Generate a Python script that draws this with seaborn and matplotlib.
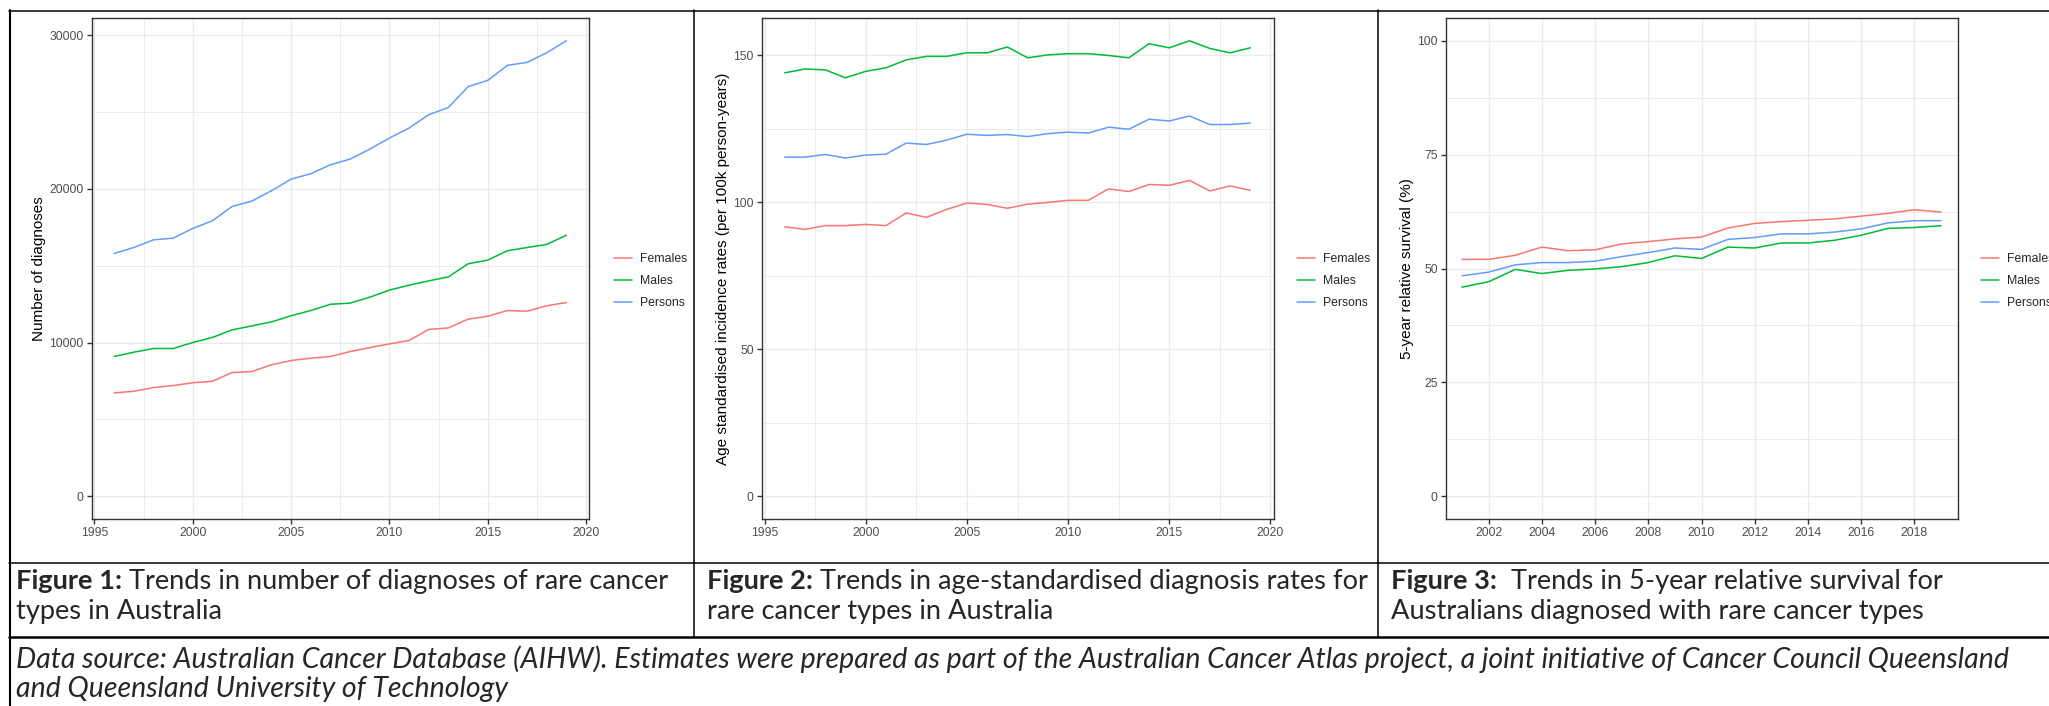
import matplotlib
matplotlib.use("Agg")
import matplotlib.pyplot as plt
from matplotlib.lines import Line2D
from matplotlib.ticker import MultipleLocator
import pandas as pd
import seaborn as sns

# ---- data ----
groups = ["Females", "Males", "Persons"]
colours = ["#F8766D", "#00BA38", "#619CFF"]

years_diag = list(range(1996, 2020))
diag_females = [6720, 6830, 7070, 7200, 7380, 7480, 8050, 8110, 8550, 8830, 8980, 9090,
                9410, 9670, 9910, 10130, 10850, 10950, 11520, 11710, 12080, 12040, 12390, 12600]
diag_males = [9090, 9370, 9610, 9610, 10000, 10330, 10820, 11080, 11340, 11740, 12080, 12490,
              12560, 12950, 13410, 13730, 14010, 14270, 15120, 15360, 15970, 16180, 16380, 16980]
diag_persons = [15790, 16180, 16680, 16790, 17420, 17920, 18850, 19200, 19870, 20630, 20980, 21560,
                21930, 22580, 23300, 23950, 24820, 25290, 26640, 27050, 28030, 28220, 28850, 29630]

years_rate = list(range(1996, 2020))
rate_females = [91.7, 90.8, 92.1, 92.1, 92.5, 92.1, 96.4, 94.9, 97.6, 99.8, 99.3, 98.0,
                99.4, 100.0, 100.7, 100.7, 104.6, 103.7, 106.1, 105.8, 107.5, 103.9, 105.6, 104.1]
rate_males = [144.1, 145.4, 145.1, 142.4, 144.6, 145.8, 148.5, 149.7, 149.7, 150.9, 150.9, 152.9,
              149.2, 150.2, 150.6, 150.6, 150.0, 149.2, 154.0, 152.6, 155.0, 152.4, 150.9, 152.6]
rate_persons = [115.4, 115.4, 116.3, 115.1, 116.1, 116.4, 120.2, 119.7, 121.2, 123.2, 122.8, 123.1,
                122.4, 123.4, 123.9, 123.6, 125.6, 124.9, 128.3, 127.7, 129.4, 126.5, 126.5, 127.0]

years_surv = list(range(2001, 2020))
surv_females = [52.0, 52.0, 52.9, 54.7, 53.9, 54.1, 55.4, 55.9, 56.5, 56.9, 58.9, 59.9,
                60.3, 60.6, 60.9, 61.5, 62.1, 62.9, 62.4]
surv_males = [45.9, 47.1, 49.8, 48.9, 49.6, 49.9, 50.4, 51.3, 52.8, 52.2, 54.7, 54.5,
              55.6, 55.6, 56.2, 57.3, 58.8, 59.0, 59.4]
surv_persons = [48.4, 49.2, 50.8, 51.3, 51.3, 51.6, 52.6, 53.5, 54.5, 54.2, 56.4, 56.8,
                57.6, 57.6, 58.0, 58.7, 60.0, 60.5, 60.5]

captions = [
    ("Figure 1:", " Trends in number of diagnoses of rare cancer", "types in Australia"),
    ("Figure 2:", " Trends in age-standardised diagnosis rates for", "rare cancer types in Australia"),
    ("Figure 3:", "  Trends in 5-year relative survival for", "Australians diagnosed with rare cancer types"),
]
source_lines = [
    "Data source: Australian Cancer Database (AIHW). Estimates were prepared as part of the Australian "
    "Cancer Atlas project, a joint initiative of Cancer Council Queensland",
    "and Queensland University of Technology",
]

# ---- setup ----
W, H = 2049, 706
sns.set_style("white")
plt.rcParams["font.family"] = ["Liberation Sans", "DejaVu Sans"]
cap_font = ["Lato", "DejaVu Sans"]

fig = plt.figure(figsize=(W / 100, H / 100), dpi=100)
renderer = fig.canvas.get_renderer()


def box(x0, y0, x1, y1):
    # pixel box (top-left origin) -> figure fraction rect
    return [x0 / W, 1 - y1 / H, (x1 - x0) / W, (y1 - y0) / H]


def long_table(years, f, m, p):
    return pd.DataFrame({
        "year": years * 3,
        "value": f + m + p,
        "group": [g for g in groups for _ in years],
    })


def panel(rect, df, ylabel, ylim, xlim, ymaj, ymin, xmaj, xmin, label_x, legend_x):
    ax = fig.add_axes(box(*rect))
    sns.lineplot(data=df, x="year", y="value", hue="group", hue_order=groups,
                 palette=colours, linewidth=1.1, ax=ax, legend=False, errorbar=None)
    ax.set_xlim(*xlim)
    ax.set_ylim(*ylim)
    ax.yaxis.set_major_locator(MultipleLocator(ymaj))
    ax.yaxis.set_minor_locator(MultipleLocator(ymin))
    ax.xaxis.set_major_locator(MultipleLocator(xmaj))
    if xmin:
        ax.xaxis.set_minor_locator(MultipleLocator(xmin))
        ax.grid(which="minor", axis="x", color="#EBEBEB", linewidth=0.7)
    ax.grid(which="minor", axis="y", color="#EBEBEB", linewidth=0.7)
    ax.grid(which="major", color="#EBEBEB", linewidth=1.0)
    ax.set_axisbelow(True)
    ax.ticklabel_format(useOffset=False, style="plain")
    ax.tick_params(which="major", length=3.4, width=1.0, color="#333333",
                   labelcolor="#4D4D4D", labelsize=8.8, pad=2.2,
                   left=True, bottom=True)
    ax.tick_params(which="minor", length=0)
    for s in ax.spines.values():
        s.set_color("#333333")
        s.set_linewidth(1.0)
    ax.set_xlabel("")
    ax.set_ylabel(ylabel, fontsize=11, color="black", va="center")
    ax.yaxis.set_label_coords((label_x - rect[0]) / (rect[2] - rect[0]), 0.5)

    # legend sits in the figure margin, like the ggplot one (third one runs off the edge)
    handles = [Line2D([], [], color=c, linewidth=1.1) for c in colours]
    fig.legend(handles, groups, loc="center left", bbox_to_anchor=(legend_x / W, 1 - 281 / H),
               frameon=False, fontsize=8.8, handlelength=1.45, handletextpad=0.65,
               labelspacing=0.8, borderpad=0, borderaxespad=0)
    return ax


panel((91.5, 18, 589, 519), long_table(years_diag, diag_females, diag_males, diag_persons),
      "Number of diagnoses", (-1480, 31110), (1994.85, 2020.15), 10000, 5000, 5, 2.5, 39, 614)
panel((761.5, 18, 1273.5, 519), long_table(years_rate, rate_females, rate_males, rate_persons),
      "Age standardised incidence rates (per 100k person-years)", (-7.75, 162.75),
      (1994.85, 2020.15), 50, 25, 5, 2.5, 723.5, 1297)
panel((1445.5, 18, 1957.5, 519), long_table(years_surv, surv_females, surv_males, surv_persons),
      "5-year relative survival (%)", (-5, 105), (2000.38, 2019.62), 25, 12.5, 2, None, 1407, 1981)

# ---- table rules ----
def rule(x0, y0, x1, y1, lw=1.1):
    fig.add_artist(Line2D([x0 / W, x1 / W], [1 - y0 / H, 1 - y1 / H],
                          transform=fig.transFigure, color="black", linewidth=lw))


rule(9, 10.5, W, 10.5)
rule(9.5, 10, 9.5, H, lw=1.5)
rule(694, 10, 694, 637)
rule(1378, 10, 1378, 637)
rule(9, 563, W, 563)
rule(9, 637, W, 637, lw=1.8)

# ---- captions ----
def measure(text, size, weight="normal", style="normal"):
    t = fig.text(0, 0, text, fontsize=size, fontweight=weight, fontstyle=style, family=cap_font)
    w = t.get_window_extent(renderer).width
    t.remove()
    return w


ref = measure(captions[0][0], 20, "bold") + measure(captions[0][1], 20)
cap_size = 20 * 656 / ref
src_size = 20 * 1994 / measure(source_lines[0], 20, style="italic")

for (bold, rest, second), x in zip(captions, [16, 707, 1391]):
    t = fig.text(x / W, 1 - 581 / H, bold, fontsize=cap_size, fontweight="bold",
                 family=cap_font, va="center", ha="left")
    bw = t.get_window_extent(renderer).width
    fig.text((x + bw) / W, 1 - 581 / H, rest, fontsize=cap_size,
             family=cap_font, va="center", ha="left")
    fig.text(x / W, 1 - 611 / H, second, fontsize=cap_size,
             family=cap_font, va="center", ha="left")

for line, y in zip(source_lines, [659, 689]):
    fig.text(16 / W, 1 - y / H, line, fontsize=src_size, fontstyle="italic",
             family=cap_font, va="center", ha="left")

fig.savefig("out.png", dpi=100)
